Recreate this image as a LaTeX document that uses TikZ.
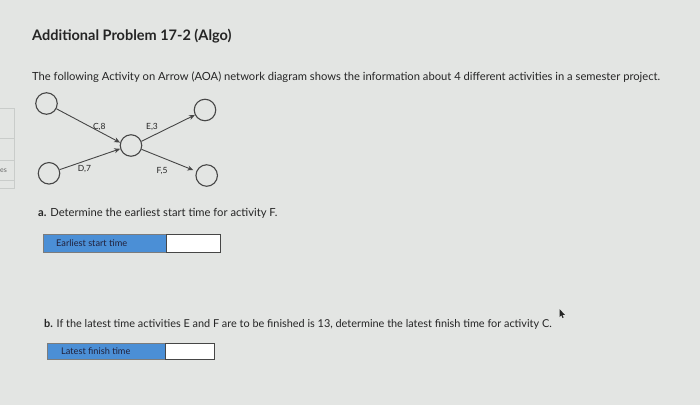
\documentclass[tikz,border=0pt]{standalone}
\usepackage{fontspec}
\setmainfont{Lato}
\usetikzlibrary{arrows.meta}
\definecolor{bg}{HTML}{E3E5E3}
\definecolor{ink}{HTML}{252525}
\definecolor{boxblue}{HTML}{4B8FD6}
\definecolor{panel}{HTML}{C9CCCA}
\tikzset{
  ev/.style={circle, draw=ink!85, line width=1.1pt, minimum size=21.5pt, inner sep=0pt},
  act/.style={draw=ink!85, line width=0.9pt, -{Stealth[length=6pt,width=5pt]}},
  alab/.style={font=\fontsize{8.5}{10}\selectfont, text=ink, inner sep=0pt},
  txt/.style={anchor=base west, inner sep=0pt, text=ink, font=\fontsize{11.2}{13}\selectfont},
  blab/.style={anchor=west, inner sep=0pt, text=ink!90!blue, font=\fontsize{9.2}{11}\selectfont},
}
\begin{document}
\begin{tikzpicture}[x=1pt,y=-1pt]
\fill[bg] (0,0) rectangle (700,405);
\useasboundingbox (0,0) rectangle (700,405);
% faint left panel
\draw[panel, line width=0.6pt] (0,108) -- (14,108) -- (14,188) -- (0,188);
\draw[panel, line width=0.5pt] (0,138) -- (14,138) (0,160) -- (14,160) (0,180) -- (14,180);
\node[anchor=base west, inner sep=0pt, text=ink!70, font=\fontsize{7}{8}\selectfont] (es) at (0,172) {es};
% title and texts
\node[txt, font=\bfseries\fontsize{14.5}{17}\selectfont] (title) at (32,40) {Additional Problem 17-2 (Algo)};
\node[txt] (intro) at (32,80) {The following Activity on Arrow (AOA) network diagram shows the information about 4 different activities in a semester project.};
\node[txt] (qa) at (38,216) {\textbf{a.} Determine the earliest start time for activity F.};
\node[txt, font=\fontsize{10.9}{13}\selectfont] (qb) at (44,327) {\textbf{b.} If the latest time activities E and F are to be finished is 13, determine the latest finish time for activity C.};
% network
\node[ev] (n1) at (46.5,103.5) {};
\node[ev] (n2) at (49,173.3) {};
\node[ev] (n3) at (131,145.5) {};
\node[ev] (n4) at (205,110) {};
\node[ev] (n5) at (206.7,175.5) {};
\draw[act] (n1) -- (n3.165);
\draw[act] (n2) -- (n3.197);
\draw[act] (n3.22) -- (n4);
\draw[act, shorten >=3pt] (n3.-20) -- (n5);
\node[alab] (lc) at (99.3,126.7) {C,8};
\node[alab] (le) at (152,127.3) {E,3};
\node[alab] (ld) at (84.5,169) {D,7};
\node[alab] (lf) at (162,171.5) {F,5};
% answer boxes
\fill[boxblue] (43,234) rectangle (166,252);
\draw[ink!60, line width=0.6pt] (43,234) rectangle (166,252);
\filldraw[fill=white, draw=ink!85, line width=0.9pt] (166,234) rectangle (220.5,252);
\node[blab] (b1) at (56,243.5) {Earliest start time};
\fill[boxblue] (47,343) rectangle (165,359);
\draw[ink!60, line width=0.6pt] (47,343) rectangle (165,359);
\filldraw[fill=white, draw=ink!85, line width=0.9pt] (165,343) rectangle (214,359);
\node[blab] (b2) at (61,351.5) {Latest finish time};
% mouse pointer
\fill[ink] (559.5,309) -- (559.5,317) -- (561.3,315.3) -- (562.6,318) -- (563.6,317.5) -- (562.4,314.8) -- (564.8,314.8) -- cycle;
\end{tikzpicture}
\end{document}
